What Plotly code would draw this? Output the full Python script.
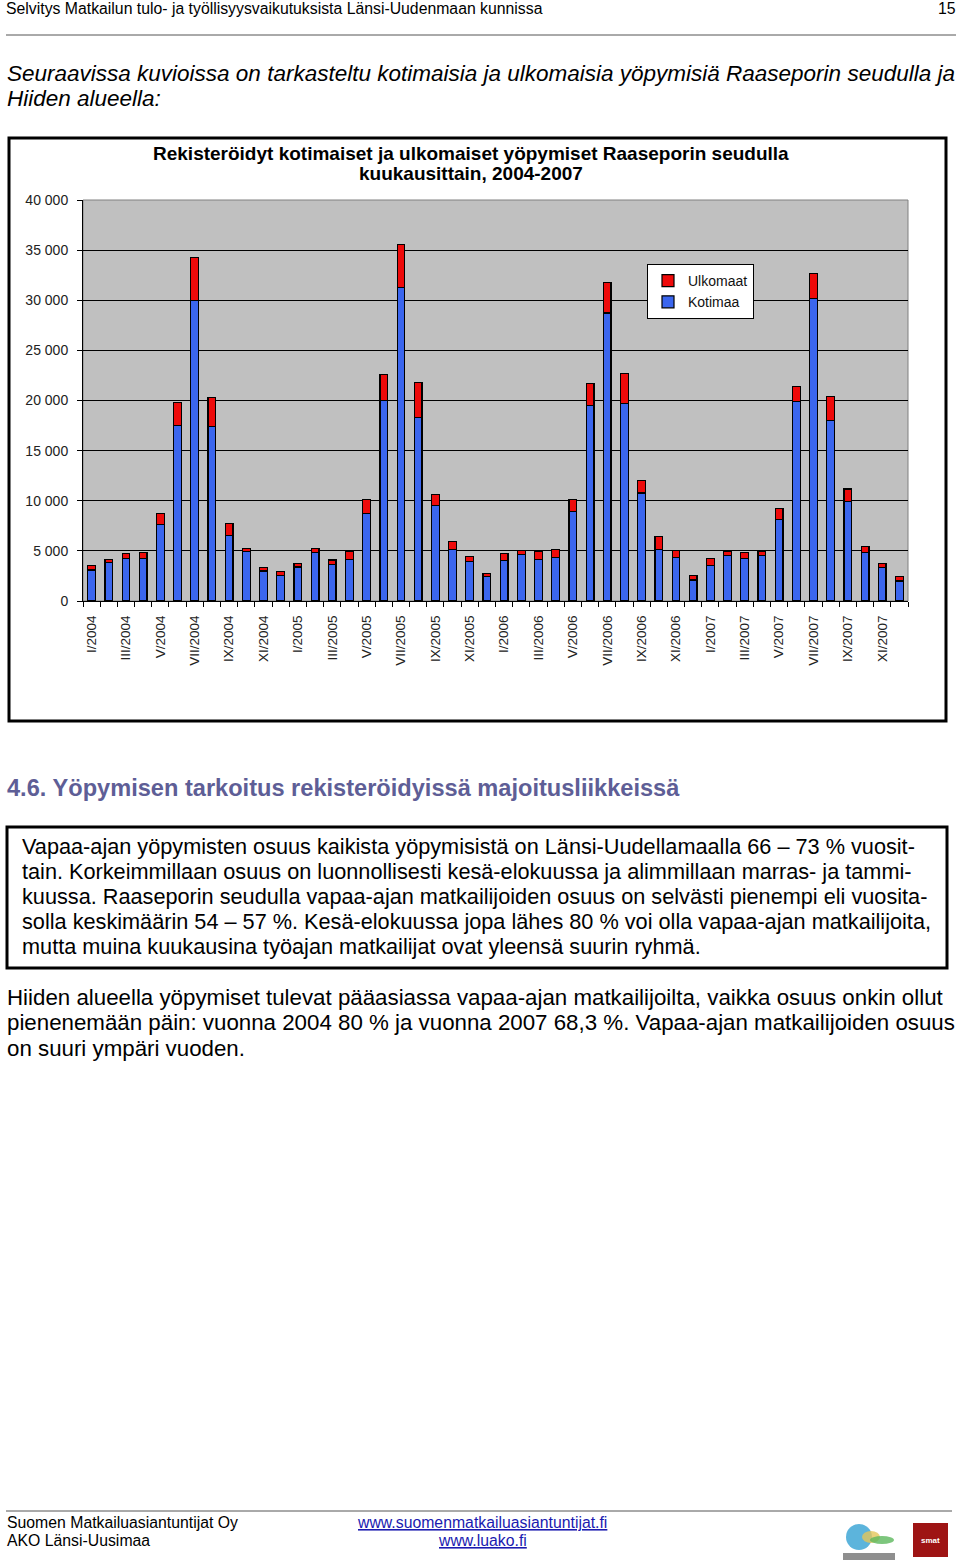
import plotly.graph_objects as go

W, H = 960, 1563

months = ["I", "II", "III", "IV", "V", "VI", "VII", "VIII", "IX", "X", "XI", "XII"]
years = ["2004", "2005", "2006", "2007"]
categories = [f"{m}/{y}" for y in years for m in months]

kotimaa = [
    3100, 3830, 4230, 4230, 7630, 17500, 30000, 17400, 6530, 4900, 3000, 2570,
    3400, 4870, 3670, 4130, 8700, 20000, 31270, 18330, 9530, 5100, 3930, 2430,
    4030, 4630, 4130, 4300, 8900, 19530, 28730, 19670, 10770, 5130, 4330, 2100,
    3570, 4530, 4230, 4500, 8100, 19870, 30170, 18000, 9900, 4830, 3330, 2000,
]
ulkomaat = [
    430, 330, 500, 630, 1100, 2270, 4300, 2930, 1170, 330, 330, 360,
    330, 360, 430, 770, 1400, 2570, 4330, 3470, 1100, 870, 470, 330,
    700, 370, 830, 830, 1200, 2170, 3070, 3000, 1270, 1330, 700, 470,
    700, 400, 600, 430, 1100, 1500, 2470, 2400, 1270, 570, 430, 470,
]
tick_text = [c if i % 2 == 0 else "" for i, c in enumerate(categories)]

chart_title_lines = [
    "Rekisteröidyt kotimaiset ja ulkomaiset yöpymiset Raaseporin seudulla",
    "kuukausittain, 2004-2007",
]
header_text = "Selvitys Matkailun tulo- ja työllisyysvaikutuksista Länsi-Uudenmaan kunnissa"
page_no = "15"
intro_lines = [
    "Seuraavissa kuvioissa on tarkasteltu kotimaisia ja ulkomaisia yöpymisiä Raaseporin seudulla ja",
    "Hiiden alueella:",
]
heading = "4.6. Yöpymisen tarkoitus rekisteröidyissä majoitusliikkeissä"
box_lines = [
    "Vapaa-ajan yöpymisten osuus kaikista yöpymisistä on Länsi-Uudellamaalla 66 – 73 % vuosit-",
    "tain. Korkeimmillaan osuus on luonnollisesti kesä-elokuussa ja alimmillaan marras- ja tammi-",
    "kuussa. Raaseporin seudulla vapaa-ajan matkailijoiden osuus on selvästi pienempi eli vuosita-",
    "solla keskimäärin 54 – 57 %. Kesä-elokuussa jopa lähes 80 % voi olla vapaa-ajan matkailijoita,",
    "mutta muina kuukausina työajan matkailijat ovat yleensä suurin ryhmä.",
]
para_lines = [
    "Hiiden alueella yöpymiset tulevat pääasiassa vapaa-ajan matkailijoilta, vaikka osuus onkin ollut",
    "pienenemään päin: vuonna 2004 80 % ja vuonna 2007 68,3 %. Vapaa-ajan matkailijoiden osuus",
    "on suuri ympäri vuoden.",
]
footer_left = ["Suomen Matkailuasiantuntijat Oy", "AKO Länsi-Uusimaa"]
footer_links = ["www.suomenmatkailuasiantuntijat.fi", "www.luako.fi"]

FONT = "Liberation Sans, Arial, Helvetica, sans-serif"


def px(x):
    return x / W


def py(y):
    return 1 - y / H


fig = go.Figure()
fig.add_trace(go.Bar(
    x=categories, y=kotimaa, name="Kotimaa",
    marker=dict(color="#3B66EE", line=dict(color="black", width=1.2)),
))
fig.add_trace(go.Bar(
    x=categories, y=ulkomaat, name="Ulkomaat",
    marker=dict(color="#EE0A0A", line=dict(color="black", width=1.2)),
))

annotations = []


def txt(x, y, s, size, color="black", xanchor="left", **fk):
    annotations.append(dict(
        x=px(x), y=py(y), xref="paper", yref="paper", text=s, showarrow=False,
        xanchor=xanchor, yanchor="middle", align="left", borderpad=0,
        font=dict(family=FONT, size=size, color=color, **fk),
    ))


# page header
txt(5, 8, header_text, 15.8)
txt(957, 8, page_no, 15.8, xanchor="right")
for i, line in enumerate(intro_lines):
    txt(6, 74 + 25 * i, f"<i>{line}</i>", 22.5)

# chart title
for i, line in enumerate(chart_title_lines):
    txt(471, 153 + 21 * i, f"<b>{line}</b>", 19, xanchor="center")

# heading & text
txt(6, 788, f"<b>{heading}</b>", 23.6, color="#5E5E96")
for i, line in enumerate(box_lines):
    txt(21, 846 + 25 * i, line, 21.7)
for i, line in enumerate(para_lines):
    txt(6, 997 + 25.5 * i, line, 22.3)

# footer
for i, line in enumerate(footer_left):
    txt(6, 1522 + 18 * i, line, 15.8)
for i, line in enumerate(footer_links):
    txt(482, 1522 + 18 * i, f"<u>{line}</u>", 15.8, color="#1A1AB0", xanchor="center")
txt(930, 1540, "<b>smat</b>", 8, color="white", xanchor="center")

shapes = [
    # header rule
    dict(type="line", xref="paper", yref="paper", x0=px(6), x1=px(956), y0=py(35), y1=py(35),
         line=dict(color="#555555", width=1)),
    # chart frame
    dict(type="rect", xref="paper", yref="paper", x0=px(9), x1=px(946), y0=py(138), y1=py(721),
         line=dict(color="black", width=3)),
    # plot area outline
    dict(type="rect", xref="paper", yref="paper", x0=px(83), x1=px(908), y0=py(200), y1=py(601),
         line=dict(color="#808080", width=1), layer="below"),
    # text box
    dict(type="rect", xref="paper", yref="paper", x0=px(7), x1=px(947), y0=py(827), y1=py(968),
         line=dict(color="black", width=3)),
    # footer rule
    dict(type="line", xref="paper", yref="paper", x0=px(6), x1=px(952), y0=py(1511), y1=py(1511),
         line=dict(color="#555555", width=1)),
    # logos
    dict(type="rect", xref="paper", yref="paper", x0=px(913), x1=px(948), y0=py(1523), y1=py(1557),
         fillcolor="#9E1414", line=dict(width=0)),
    dict(type="circle", xref="paper", yref="paper", x0=px(846), x1=px(872), y0=py(1524), y1=py(1550),
         fillcolor="#3FA7D6", line=dict(width=0), opacity=0.85),
    dict(type="circle", xref="paper", yref="paper", x0=px(862), x1=px(880), y0=py(1531), y1=py(1543),
         fillcolor="#E3C65A", line=dict(width=0), opacity=0.8),
    dict(type="circle", xref="paper", yref="paper", x0=px(870), x1=px(894), y0=py(1536), y1=py(1544),
         fillcolor="#5CB85C", line=dict(width=0), opacity=0.8),
    dict(type="rect", xref="paper", yref="paper", x0=px(843), x1=px(895), y0=py(1553), y1=py(1560),
         fillcolor="#444444", line=dict(width=0), opacity=0.6),
]

fig.update_layout(
    width=W, height=H,
    margin=dict(l=0, r=0, t=0, b=0, pad=0, autoexpand=False),
    paper_bgcolor="white",
    plot_bgcolor="#C0C0C0",
    barmode="stack",
    bargap=0.55,
    separators=", ",
    showlegend=True,
    legend=dict(
        x=px(647), y=py(264), xanchor="left", yanchor="top",
        bgcolor="white", bordercolor="black", borderwidth=1,
        traceorder="reversed", itemwidth=30,
        font=dict(family=FONT, size=14, color="#111111"),
    ),
    xaxis=dict(
        domain=[px(83), px(908)],
        type="category",
        tickmode="array", tickvals=categories, ticktext=tick_text,
        tickangle=-90, tickson="boundaries",
        ticks="outside", ticklen=5, tickcolor="black", ticklabelstandoff=8,
        showline=True, linecolor="black", linewidth=1,
        showgrid=False, automargin=False,
        tickfont=dict(family=FONT, size=13.5, color="#222222"),
        anchor="y",
    ),
    yaxis=dict(
        domain=[py(601), py(200)],
        range=[0, 40000],
        tickmode="linear", tick0=0, dtick=5000,
        tickformat=",d",
        showgrid=True, gridcolor="black", gridwidth=1,
        showline=True, linecolor="black", linewidth=1,
        ticks="outside", ticklen=5, tickcolor="black", ticklabelstandoff=6,
        tickfont=dict(family=FONT, size=14, color="#222222"),
        zeroline=False, automargin=False,
    ),
    annotations=annotations,
    shapes=shapes,
)

fig.write_html(
    "out.html",
    config={"displayModeBar": False},
    post_script=(
        "var gd=document.getElementById('{plot_id}');"
        "gd.style.position='absolute';gd.style.top='0px';gd.style.left='0px';"
        "document.body.style.margin='0';document.body.style.padding='0';"
        "document.body.style.height='1563px';document.body.style.overflow='hidden';"
        "document.documentElement.style.overflow='hidden';"
        "document.documentElement.style.height='1563px';"
    ),
)
